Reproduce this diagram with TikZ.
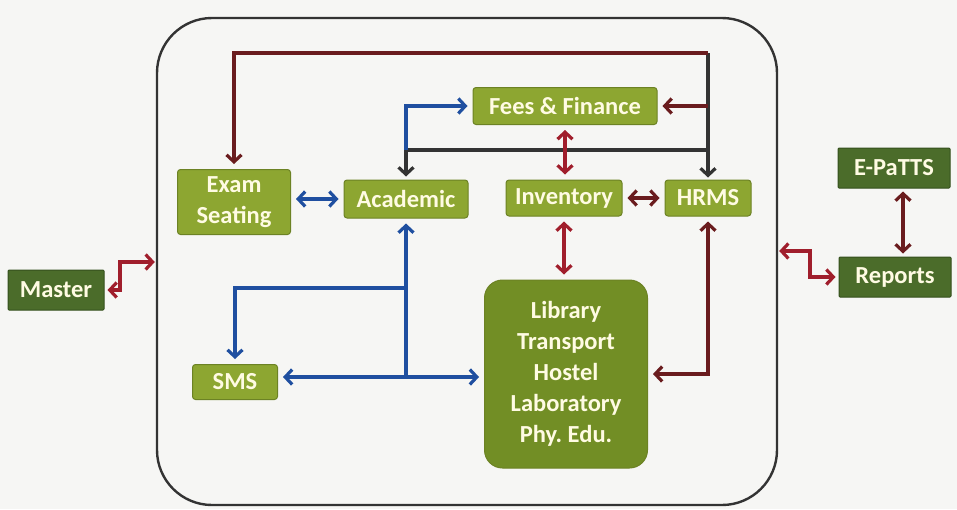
\documentclass[tikz,border=0pt]{standalone}
\usepackage{fontspec}
\setmainfont{Carlito}
\usetikzlibrary{arrows.meta}
\frenchspacing
\definecolor{olv}{HTML}{8DA631}
\definecolor{olvd}{HTML}{6C8224}
\definecolor{libc}{HTML}{728E25}
\definecolor{dgrn}{HTML}{4B6C2A}
\definecolor{dgrnd}{HTML}{34501D}
\definecolor{txt}{HTML}{FFFBE3}
\definecolor{cred}{HTML}{A01E2C}
\definecolor{dred}{HTML}{6A1C1E}
\definecolor{cblue}{HTML}{1F4FA0}
\definecolor{dgray}{HTML}{333333}
\definecolor{paper}{HTML}{F6F6F4}
\tikzset{
  box/.style={fill=olv, draw=olvd, line width=1pt, rounded corners=3pt, text=txt,
    font=\fontsize{24.5}{31}\selectfont\bfseries, align=center, inner sep=0pt},
  bigbox/.style={box, fill=libc, rounded corners=18pt},
  dbox/.style={box, fill=dgrn, draw=dgrnd, rounded corners=1pt},
  con/.style={line width=3.2pt, arrows={-Straight Barb[length=7pt,width=15pt]}},
  con2/.style={line width=3.2pt, arrows={Straight Barb[length=7pt,width=15pt]-Straight Barb[length=7pt,width=15pt]}},
}
\begin{document}
\begin{tikzpicture}[x=1pt,y=-1pt]
\fill[paper] (0,0) rectangle (957,509);
\useasboundingbox (0,0) rectangle (957,509);
% outer frame
\node[draw=dgray, line width=2.4pt, rounded corners=55pt, minimum width=620pt, minimum height=487pt, inner sep=0pt] (outer) at (467,261.5) {};
% nodes
\node[box, minimum width=113pt, minimum height=65pt] (exam) at (234,202) {Exam\\Seating};
\node[box, minimum width=124pt, minimum height=38pt] (acad) at (406,199) {Academic};
\node[box, minimum width=184pt, minimum height=37pt] (fees) at (565,106) {Fees \& Finance};
\node[box, minimum width=116pt, minimum height=36pt] (inv) at (564,198) {Inventory};
\node[box, minimum width=86pt, minimum height=36pt] (hrms) at (708,198) {HRMS};
\node[box, minimum width=85pt, minimum height=35pt] (sms) at (235,382) {SMS};
\node[bigbox, minimum width=163pt, minimum height=188pt] (lib) at (566,374) {Library\\Transport\\Hostel\\Laboratory\\Phy. Edu.};
\node[dbox, minimum width=96pt, minimum height=40pt] (master) at (56,290) {Master};
\node[dbox, minimum width=112pt, minimum height=40pt] (epatts) at (894,168) {E-PaTTS};
\node[dbox, minimum width=112pt, minimum height=40pt] (reports) at (895,277) {Reports};
% junction coordinates
\coordinate (tj) at (708,53);
\coordinate (mj) at (708,150);
\coordinate (bj) at (406,377);
\coordinate (sj) at (406,288);
% top connectors
\draw[con, dgray, shorten >=2pt] (tj) -- (hrms.north);
\draw[con, dred, shorten >=5pt] (tj) -| (exam.north);
\draw[con, dred, shorten >=5pt] (tj |- fees.east) -- (fees.east);
\draw[con, dgray, shorten >=3pt] (mj) -| (acad.north);
\draw[con, cblue, shorten >=5pt] (acad.north |- mj) |- (fees.west);
% middle
\draw[con2, cblue, shorten >=5pt, shorten <=5pt] (exam.east |- acad.west) -- (acad.west);
\draw[con2, cred, shorten >=5pt, shorten <=5pt] (fees.south) -- (fees.south |- inv.north);
\draw[con2, dred, shorten >=5pt, shorten <=5pt] (inv.east) -- (hrms.west);
\draw[con2, cred, shorten >=5pt, shorten <=5pt] (inv.south) -- (inv.south |- lib.north);
\draw[con2, dred, shorten >=5pt, shorten <=5pt] (hrms.south) |- (lib.east);
% blue bottom
\draw[con, cblue, shorten >=5pt] (bj) -- (acad.south);
\draw[con, cblue, shorten >=5pt] (bj) -- (bj -| sms.east);
\draw[con, cblue, shorten >=5pt] (bj) -- (bj -| lib.west);
\draw[con, cblue, shorten >=5pt] (sj) -| (sms.north);
% outside
\draw[con2, cred, shorten >=1pt, shorten <=3pt] (master.east) -- (120,290) -- (120,262) -- (outer.west |- 0,262);
\draw[con2, cred, shorten >=3pt, shorten <=1pt] (outer.east |- 0,251) -- (810,251) -- (810,277) -- (reports.west);
\draw[con2, dred, shorten >=3pt, shorten <=3pt] ([xshift=9pt]epatts.south) -- ([xshift=8pt]reports.north);
\end{tikzpicture}
\end{document}
